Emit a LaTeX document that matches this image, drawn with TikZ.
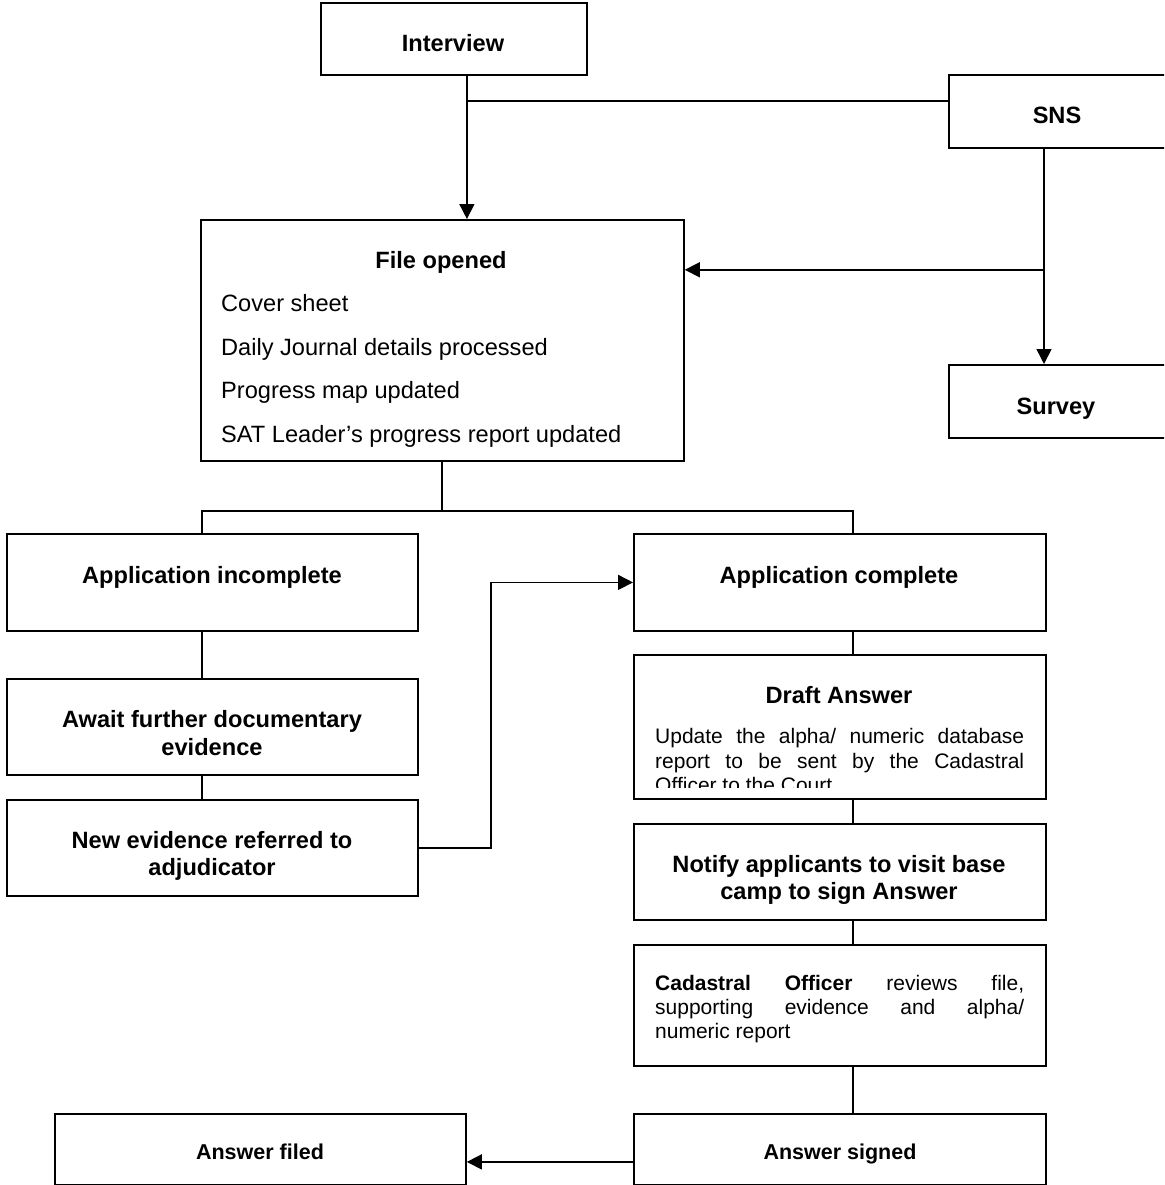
\documentclass[tikz,border=0pt]{standalone}
\usepackage{fontspec}
\setmainfont{Liberation Sans}
\usetikzlibrary{arrows.meta}
\tikzset{
  box/.style={draw, line width=1.8pt, anchor=north west, inner sep=0pt},
  conn/.style={line width=1.6pt},
  arr/.style={line width=1.6pt, -{Triangle[length=15pt,width=15pt]}},
  ttl/.style={anchor=base, inner sep=0pt, font=\bfseries\fontsize{23.6}{27}\selectfont},
  ttls/.style={anchor=base, inner sep=0pt, font=\bfseries\fontsize{21.5}{25}\selectfont},
  lst/.style={anchor=base west, inner sep=0pt, font=\fontsize{23.6}{27}\selectfont},
  body/.style={anchor=base west, inner sep=0pt, font=\fontsize{21}{24.5}\selectfont}
}
\begin{document}
\begin{tikzpicture}[x=1pt,y=-1pt]
\clip (0,0) rectangle (1164,1185);
\fill[white] (0,0) rectangle (1164,1185);

% boxes
\node[box, minimum width=266pt, minimum height=72pt] (interview) at (320,2) {};
\node[box, minimum width=218pt, minimum height=73pt] (sns) at (948,74) {};
\node[box, minimum width=483pt, minimum height=241pt] (fileopened) at (200,219) {};
\node[box, minimum width=218pt, minimum height=73pt] (survey) at (948,364) {};
\node[box, minimum width=411pt, minimum height=97pt] (appinc) at (6,533) {};
\node[box, minimum width=412pt, minimum height=97pt] (appcomp) at (633,533) {};
\node[box, minimum width=411pt, minimum height=96pt] (await) at (6,678) {};
\node[box, minimum width=411pt, minimum height=96pt] (newev) at (6,799) {};
\node[box, minimum width=412pt, minimum height=144pt] (draft) at (633,654) {};
\node[box, minimum width=412pt, minimum height=96pt] (notify) at (633,823) {};
\node[box, minimum width=412pt, minimum height=121pt] (cad) at (633,944) {};
\node[box, minimum width=411pt, minimum height=71pt] (filed) at (54,1113) {};
\node[box, minimum width=412pt, minimum height=71pt] (signed) at (633,1113) {};

% texts
\node[ttl] (tInterview) at (453,51.5) {Interview};
\node[ttl] (tSNS) at (1057,124) {SNS};
\node[ttl] (tFile) at (441,268.3) {File opened};
\node[lst] (tCover) at (221,311.7) {Cover sheet};
\node[lst] (tDaily) at (221,355.5) {Daily Journal details processed};
\node[lst] (tProg) at (221,398.5) {Progress map updated};
\node[lst] (tSAT) at (221,442.3) {SAT Leader’s progress report updated};
\node[ttl] (tSurvey) at (1056,414) {Survey};
\node[ttl] (tAppInc) at (212,583) {Application incomplete};
\node[ttl] (tAppComp) at (839,583) {Application complete};
\node[ttl] (tAwait1) at (212,727.3) {Await further documentary};
\node[ttl] (tAwait2) at (212,755) {evidence};
\node[ttl] (tNew1) at (212,848.3) {New evidence referred to};
\node[ttl] (tNew2) at (212,875) {adjudicator};
\node[ttl] (tDraft) at (839,703.3) {Draft Answer};
\begin{scope}
\clip (633,654) rectangle (1045,787);
\node[body] (tDraft1) at (655,743) {\makebox[369pt][s]{Update the alpha/ numeric database}};
\node[body] (tDraft2) at (655,768) {\makebox[369pt][s]{report to be sent by the Cadastral}};
\node[body] (tDraft3) at (655,792) {Officer to the Court};
\end{scope}
\node[ttl] (tNotify1) at (839,872.7) {Notify applicants to visit base};
\node[ttl] (tNotify2) at (839,899.3) {camp to sign Answer};
\node[body] (tCad1) at (655,990) {\makebox[369pt][s]{\textbf{Cadastral} \textbf{Officer} reviews file,}};
\node[body] (tCad2) at (655,1014.5) {\makebox[369pt][s]{supporting evidence and alpha/}};
\node[body] (tCad3) at (655,1038.5) {numeric report};
\node[ttls] (tFiled) at (260,1159) {Answer filed};
\node[ttls] (tSigned) at (840,1159) {Answer signed};

% connectors
\coordinate (j1) at ([xshift=13pt]interview.south);
\draw[arr] (j1) -- (j1 |- fileopened.north);
\path (j1) ++(0,25) coordinate (j2);
\draw[conn] (j2) -- (j2 -| sns.west);

\coordinate (s1) at ([xshift=96pt]sns.south west);
\draw[arr] (s1) -- (s1 |- survey.north);
\path (s1) ++(0,121) coordinate (s2);
\draw[arr] (s2) -- (s2 -| fileopened.east);

\coordinate (f0) at ([xshift=-0.5pt]fileopened.south);
\draw[conn] (f0) -- ++(0,49) coordinate (f1);
\coordinate (bl) at ([xshift=-10.5pt]appinc.north);
\coordinate (br) at ([xshift=13pt]appcomp.north);
\draw[conn] (bl) |- (f1) -| (br);

\draw[conn] (bl |- appinc.south) -- (bl |- await.north);
\draw[conn] (bl |- await.south) -- (bl |- newev.north);
\draw[arr] (newev.east) -- ++(72,0) |- (appcomp.west);

\draw[conn] (br |- appcomp.south) -- (br |- draft.north);
\draw[conn] (br |- draft.south) -- (br |- notify.north);
\draw[conn] (br |- notify.south) -- (br |- cad.north);
\draw[conn] (br |- cad.south) -- (br |- signed.north);
\draw[arr] ([yshift=-12.5pt]signed.west) -- ([yshift=-12.5pt]signed.west -| filed.east);
\end{tikzpicture}
\end{document}
